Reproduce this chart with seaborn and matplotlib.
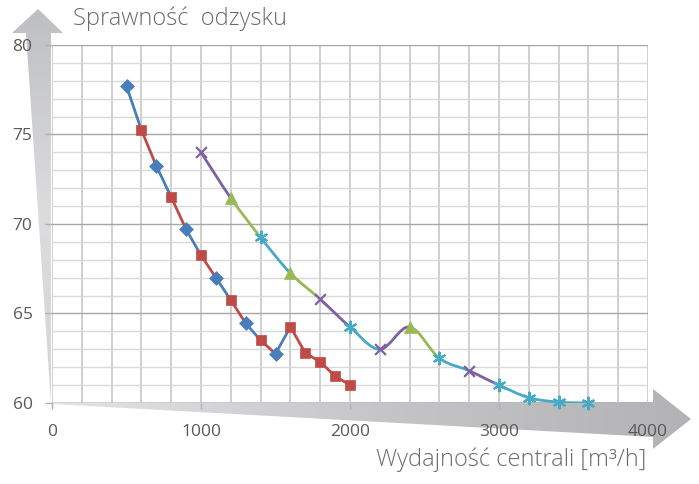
import numpy as np
import pandas as pd
import matplotlib
matplotlib.use("Agg")
import matplotlib.pyplot as plt
import seaborn as sns
from matplotlib.path import Path
from matplotlib.patches import PathPatch, Polygon
from matplotlib.colors import LinearSegmentedColormap

sns.set_style("white")
plt.rcParams["font.family"] = ["Open Sans", "DejaVu Sans"]

# data
x_curve1 = [500, 600, 700, 800, 900, 1000, 1100, 1200, 1300, 1400, 1500,
            1600, 1700, 1800, 1900, 2000]
y_curve1 = [77.7, 75.25, 73.25, 71.5, 69.7, 68.25, 67.0, 65.75, 64.45, 63.5, 62.75,
            64.25, 62.8, 62.3, 61.5, 61.0]
kind_curve1 = ["A", "B", "A", "B", "A", "B", "A", "B", "A", "B", "A",
               "B", "B", "B", "B", "B"]

x_curve2 = [1000, 1200, 1400, 1600, 1800, 2000, 2200, 2400, 2600, 2800, 3000,
            3200, 3400, 3600]
y_curve2 = [74.0, 71.45, 69.25, 67.25, 65.8, 64.25, 63.0, 64.25, 62.5, 61.8, 61.0,
            60.3, 60.05, 60.0]
kind_curve2 = ["D", "C", "E", "C", "D", "E", "D", "C", "E", "D", "E",
               "E", "E", "E"]

x_ticks = [0, 1000, 2000, 3000, 4000]
y_ticks = [60, 65, 70, 75, 80]

colors = {"A": "#4a7ebb", "B": "#be4b48", "C": "#98b954", "D": "#7d60a0", "E": "#46aac5"}
markers = {"A": "D", "B": "s", "C": "^", "D": "x", "E": (6, 2, 0)}
msizes = {"A": 50, "B": 60, "C": 75, "D": 60, "E": 70}

df1 = pd.DataFrame({"x": x_curve1, "y": y_curve1, "kind": kind_curve1})
df2 = pd.DataFrame({"x": x_curve2, "y": y_curve2, "kind": kind_curve2})

fig = plt.figure(figsize=(6.99, 4.84), dpi=100)
fig.patch.set_facecolor("white")

# background layer in pixel coordinates for the gradient arrows
bg = fig.add_axes([0, 0, 1, 1], zorder=0)
bg.set_xlim(0, 699)
bg.set_ylim(484, 0)
bg.axis("off")


def gradient_poly(verts, cols, horizontal):
    poly = Polygon(verts, closed=True, facecolor="none", edgecolor="none")
    bg.add_patch(poly)
    xs = [v[0] for v in verts]
    ys = [v[1] for v in verts]
    g = np.linspace(0, 1, 256)
    grad = g.reshape(1, -1) if horizontal else g.reshape(-1, 1)
    cmap = LinearSegmentedColormap.from_list("g", cols)
    im = bg.imshow(grad, cmap=cmap, extent=(min(xs), max(xs), max(ys), min(ys)),
                   aspect="auto", origin="upper", interpolation="bilinear")
    im.set_clip_path(poly)


# y arrow
gradient_poly([(38, 9), (63, 33), (51, 33), (51, 404), (26, 33), (12, 33)],
              ["#bebfc2", "#dcdcde", "#d5d5d7"], horizontal=False)
# x arrow
gradient_poly([(52, 402), (653, 402), (653, 389), (691, 419), (653, 449), (653, 437), (52, 404)],
              ["#e4e4e6", "#c6c6c8", "#b3b3b5"], horizontal=True)

ax = fig.add_axes([52 / 699, 1 - 403 / 484, 596 / 699, 358 / 484], zorder=1)
ax.patch.set_alpha(0)
ax.set_xlim(0, 4000)
ax.set_ylim(60, 80)

ax.set_xticks(x_ticks)
ax.set_xticks(np.arange(0, 4001, 200), minor=True)
ax.set_yticks(y_ticks)
ax.set_yticks(np.arange(60, 81, 1), minor=True)
ax.grid(axis="x", which="both", color="#cfcfcf", linewidth=1.4, zorder=0)
ax.grid(axis="y", which="minor", color="#d9d9d9", linewidth=1.0, zorder=0)
ax.grid(axis="y", which="major", color="#a6a6a6", linewidth=1.0, zorder=0)
ax.set_axisbelow(True)
for s in ax.spines.values():
    s.set_visible(False)

ax.tick_params(axis="y", which="major", length=5, width=1, color="#b0b0b0",
               labelsize=12.5, labelcolor="#595959", pad=9, left=True)
ax.tick_params(axis="x", which="major", length=4, width=1, color="#b0b0b0",
               labelsize=12.5, labelcolor="#595959", pad=11, bottom=True)
ax.tick_params(which="minor", length=0)


def seg_color_lines(d):
    # straight segments, each coloured as its starting point
    for i in range(len(d) - 1):
        k = d["kind"].iloc[i]
        ax.plot(d["x"].iloc[i:i + 2], d["y"].iloc[i:i + 2], color=colors[k],
                linewidth=2.0, solid_capstyle="round", zorder=3)


def seg_color_smooth(d):
    # smoothed (Bezier) segments, each coloured as its starting point
    px = d["x"].to_numpy(float)
    py = d["y"].to_numpy(float)
    n = len(px)
    for i in range(n - 1):
        p0 = (px[max(i - 1, 0)], py[max(i - 1, 0)])
        p1 = (px[i], py[i])
        p2 = (px[i + 1], py[i + 1])
        p3 = (px[min(i + 2, n - 1)], py[min(i + 2, n - 1)])
        c1 = (p1[0] + (p2[0] - p0[0]) / 6, p1[1] + (p2[1] - p0[1]) / 6)
        c2 = (p2[0] - (p3[0] - p1[0]) / 6, p2[1] - (p3[1] - p1[1]) / 6)
        path = Path([p1, c1, c2, p2], [Path.MOVETO, Path.CURVE4, Path.CURVE4, Path.CURVE4])
        ax.add_patch(PathPatch(path, facecolor="none", edgecolor=colors[d["kind"].iloc[i]],
                               linewidth=2.0, capstyle="round", zorder=3))


seg_color_lines(df1)
seg_color_smooth(df2)

for d in (df1, df2):
    for k, sub in d.groupby("kind"):
        sns.scatterplot(data=sub, x="x", y="y", ax=ax, marker=markers[k], s=msizes[k],
                        color=colors[k], edgecolor=colors[k], linewidth=1.6 if k in "DE" else 0.5,
                        zorder=4, legend=False, clip_on=False)

ax.set_xlabel("")
ax.set_ylabel("")

fig.text(73 / 699, 1 - 19 / 484, "Sprawność  odzysku", fontsize=17, color="#6b6b6b",
         fontweight="light", ha="left", va="center")
fig.text(646 / 699, 1 - 460 / 484, "Wydajność centrali [m³/h]", fontsize=17, color="#6b6b6b",
         fontweight="light", ha="right", va="center")

fig.savefig("out.png", dpi=100)
